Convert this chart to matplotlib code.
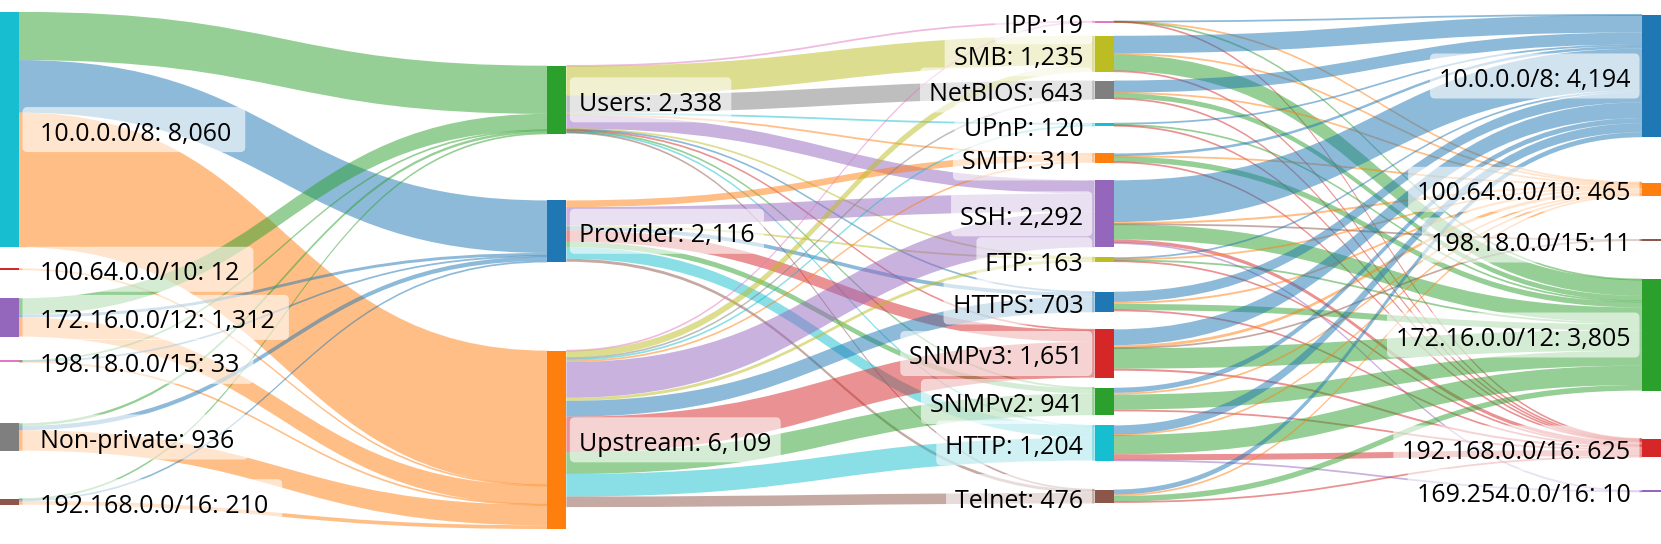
import matplotlib
matplotlib.use("Agg")
import matplotlib.pyplot as plt
from matplotlib.path import Path
from matplotlib.patches import PathPatch, Rectangle, FancyBboxPatch

plt.rcParams['font.family'] = ['Open Sans', 'DejaVu Sans']

# ---- data ----
src_labels = ["10.0.0.0/8", "100.64.0.0/10", "172.16.0.0/12", "198.18.0.0/15", "Non-private", "192.168.0.0/16"]
src_values = [8060, 12, 1312, 33, 936, 210]

grp_labels = ["Users", "Provider", "Upstream"]
grp_values = [2338, 2116, 6109]

proto_labels = ["IPP", "SMB", "NetBIOS", "UPnP", "SMTP", "SSH", "FTP", "HTTPS",
                "SNMPv3", "SNMPv2", "HTTP", "Telnet"]
proto_values = [19, 1235, 643, 120, 311, 2292, 163, 703, 1651, 941, 1204, 476]

dst_labels = ["10.0.0.0/8", "100.64.0.0/10", "198.18.0.0/15", "172.16.0.0/12",
              "192.168.0.0/16", "169.254.0.0/16"]
dst_values = [4194, 465, 11, 3805, 625, 10]

# flows (rows = source node, columns = target node)
src_to_grp = [
    [1650, 1800, 4610],
    [0, 0, 12],
    [560, 100, 652],
    [5, 20, 8],
    [86, 150, 700],
    [37, 46, 127],
]
grp_to_proto = [
    [15, 1000, 600, 60, 30, 450, 20, 30, 30, 20, 30, 15],
    [0, 0, 0, 0, 230, 620, 40, 130, 400, 180, 400, 100],
    [4, 235, 43, 60, 51, 1222, 103, 543, 1221, 741, 774, 361],
]
proto_to_dst = [
    [8, 2, 0, 5, 4, 0],
    [600, 40, 0, 560, 30, 0],
    [411, 25, 0, 170, 25, 0],
    [50, 0, 0, 35, 20, 0],
    [90, 15, 0, 190, 15, 0],
    [1430, 70, 6, 520, 120, 5],
    [60, 15, 0, 51, 15, 0],
    [350, 68, 0, 210, 25, 0],
    [540, 100, 5, 700, 70, 0],
    [175, 60, 0, 514, 60, 0],
    [310, 20, 0, 660, 206, 5],
    [170, 50, 0, 190, 35, 0],
]

# ---- styles / layout ----
src_colors = ["#17becf", "#d62728", "#9467bd", "#e377c2", "#7f7f7f", "#8c564b"]
grp_colors = ["#2ca02c", "#1f77b4", "#ff7f0e"]
proto_colors = ["#e377c2", "#bcbd22", "#7f7f7f", "#17becf", "#ff7f0e", "#9467bd",
                "#bcbd22", "#1f77b4", "#d62728", "#2ca02c", "#17becf", "#8c564b"]
dst_colors = ["#1f77b4", "#ff7f0e", "#8c564b", "#2ca02c", "#d62728", "#9467bd"]

# node centre as fraction of the height (like plotly node.y)
src_y = [0.2382, 0.495, 0.5835, 0.6642, 0.8033, 0.9222]
grp_y = [0.1835, 0.4252, 0.8085]
proto_y = [0.0399, 0.0989, 0.1654, 0.2292, 0.2904, 0.393, 0.4774, 0.5551,
           0.6498, 0.738, 0.8143, 0.9127]
dst_y = [0.1397, 0.348, 0.4412, 0.6158, 0.8235, 0.9031]

W, H = 1661, 544
node_w = 19
px_per_unit = 0.0292
min_band = 1.8
min_node = 2.0
font_size = 18

columns = [
    (src_labels, src_values, src_colors, src_y),
    (grp_labels, grp_values, grp_colors, grp_y),
    (proto_labels, proto_values, proto_colors, proto_y),
    (dst_labels, dst_values, dst_colors, dst_y),
]
flows = [src_to_grp, grp_to_proto, proto_to_dst]

fig = plt.figure(figsize=(W / 100, H / 100), dpi=100)
ax = fig.add_axes([0, 0, 1, 1])
ax.set_xlim(0, W)
ax.set_ylim(H, 0)
ax.axis('off')

col_x = [i * (W - node_w) / 3 for i in range(4)]
tops = []
for labels, values, colors, ys in columns:
    tops.append([y * H - v * px_per_unit / 2 for y, v in zip(ys, values)])

# links
for ci, matrix in enumerate(flows):
    out_off = [0.0] * len(columns[ci][1])
    in_off = [0.0] * len(columns[ci + 1][1])
    x0 = col_x[ci] + node_w
    x1 = col_x[ci + 1]
    xm = (x0 + x1) / 2
    tcolors = columns[ci + 1][2]
    for si, row in enumerate(matrix):
        for ti, v in enumerate(row):
            if v == 0:
                continue
            th = v * px_per_unit
            c0 = tops[ci][si] + out_off[si] + th / 2
            c1 = tops[ci + 1][ti] + in_off[ti] + th / 2
            out_off[si] += th
            in_off[ti] += th
            d = max(th, min_band) / 2
            verts = [(x0, c0 - d), (xm, c0 - d), (xm, c1 - d), (x1, c1 - d),
                     (x1, c1 + d), (xm, c1 + d), (xm, c0 + d), (x0, c0 + d),
                     (x0, c0 - d)]
            codes = [Path.MOVETO, Path.CURVE4, Path.CURVE4, Path.CURVE4,
                     Path.LINETO, Path.CURVE4, Path.CURVE4, Path.CURVE4,
                     Path.CLOSEPOLY]
            ax.add_patch(PathPatch(Path(verts, codes), facecolor=tcolors[ti],
                                   alpha=0.5, lw=0, zorder=1))

# nodes
for ci, (labels, values, colors, ys) in enumerate(columns):
    for i, v in enumerate(values):
        h = max(v * px_per_unit, min_node)
        ax.add_patch(Rectangle((col_x[ci], ys[i] * H - h / 2), node_w, h,
                               facecolor=colors[i], lw=0, zorder=2))

# labels
texts = []
for ci, (labels, values, colors, ys) in enumerate(columns):
    for i, (lab, v) in enumerate(zip(labels, values)):
        yc = ys[i] * H
        base = yc + 11
        if ci == 0:
            t = ax.text(col_x[ci] + node_w + 21, base, f"{lab}: {v:,}", ha='left',
                        va='baseline', fontsize=font_size, color='black', zorder=4)
            texts.append((t, 17.5, 14, yc))
        elif ci == 1:
            t = ax.text(col_x[ci] + node_w + 12.5, base, f"{lab}: {v:,}", ha='left',
                        va='baseline', fontsize=font_size, color='black', zorder=4)
            texts.append((t, 9, 9.5, yc))
        else:
            t = ax.text(col_x[ci] - 11.5, base, f"{lab}: {v:,}", ha='right',
                        va='baseline', fontsize=font_size, color='black', zorder=4)
            texts.append((t, 9, 9, yc))

fig.canvas.draw()
renderer = fig.canvas.get_renderer()
inv = ax.transData.inverted()
for t, padl, padr, yc in texts:
    bb = t.get_window_extent(renderer)
    (bx0, _), (bx1, _) = inv.transform([(bb.x0, bb.y0), (bb.x1, bb.y1)])
    box_h = 45
    ax.add_patch(FancyBboxPatch((bx0 - padl, yc - box_h / 2), (bx1 - bx0) + padl + padr, box_h,
                                boxstyle="round,pad=0,rounding_size=5",
                                facecolor='white', alpha=0.6, lw=0, zorder=3))

fig.savefig("out.png", dpi=100)
